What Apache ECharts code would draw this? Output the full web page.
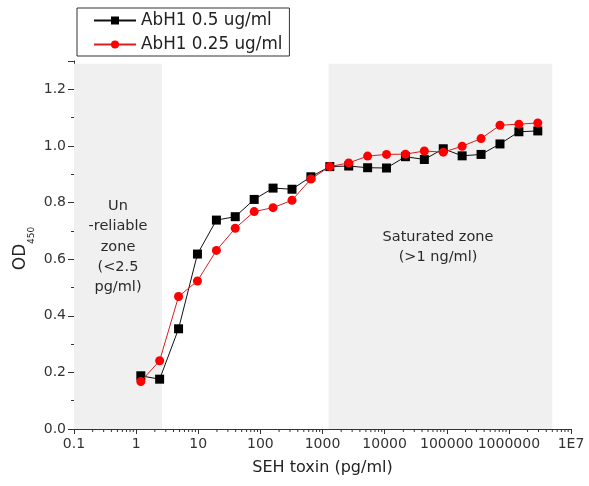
<!DOCTYPE html>
<html>
<head>
<meta charset="utf-8">
<script src="https://cdn.jsdelivr.net/npm/echarts@6/dist/echarts.min.js"></script>
<style>
html,body{margin:0;padding:0;background:#fff;}
#c{width:589px;height:486px;}
</style>
</head>
<body>
<div id="c"></div>
<script>
// ---- data ----
const concentrations = [1.19, 2.39, 4.82, 9.71, 19.6, 39.4, 79.5, 160, 323, 650, 1311, 2642,
  5323, 10730, 21630, 43590, 87840, 177000, 356800, 719000, 1449000, 2920000];
const od_05 = [0.188, 0.176, 0.354, 0.618, 0.738, 0.75, 0.811, 0.851, 0.847, 0.891, 0.927, 0.929,
  0.923, 0.922, 0.962, 0.952, 0.99, 0.965, 0.97, 1.007, 1.05, 1.053];
const od_025 = [0.168, 0.241, 0.468, 0.523, 0.631, 0.709, 0.768, 0.782, 0.808, 0.883, 0.927, 0.94,
  0.964, 0.97, 0.971, 0.982, 0.978, 0.999, 1.026, 1.073, 1.077, 1.081];
const seriesNames = ['AbH1 0.5 ug/ml', 'AbH1 0.25 ug/ml'];
const xTickLabels = ['0.1', '1', '10', '100', '1000', '10000', '100000', '1000000', '1E7'];
const unreliableZone = [0.1, 2.6];
const saturatedZone = [1250, 5000000];
const zoneTop = 1.29;

const FONT = 'DejaVu Sans';
const pair = (xs, ys) => xs.map((x, i) => [x, ys[i]]);

// minor tick positions for the log axis (2..9 within each decade)
const minorTicks = [];
for (let e = -1; e < 7; e++) for (let m = 2; m <= 9; m++) minorTicks.push([m * Math.pow(10, e), 0]);

const chart = echarts.init(document.getElementById('c'), null, {renderer: 'canvas'});
chart.setOption({
  animation: false,
  backgroundColor: '#fff',
  grid: {left: 74, right: 18, top: 61, bottom: 57, containLabel: false},
  legend: {
    data: seriesNames,
    orient: 'vertical',
    left: 77, top: 8,
    padding: [4, 7, 3, 16],
    itemGap: 7,
    itemWidth: 42, itemHeight: 10,
    borderColor: '#333', borderWidth: 1,
    textStyle: {fontFamily: FONT, fontSize: 16.8, color: '#222'}
  },
  xAxis: {
    type: 'log', logBase: 10, min: 0.1, max: 1e7, splitNumber: 8,
    name: 'SEH toxin (pg/ml)', nameLocation: 'middle', nameGap: 31,
    nameTextStyle: {fontFamily: FONT, fontSize: 16, color: '#222'},
    axisLine: {lineStyle: {color: '#333', width: 1}},
    axisTick: {show: true, length: 5, inside: false, lineStyle: {color: '#333'}},
    splitLine: {show: false},
    axisLabel: {
      fontFamily: FONT, fontSize: 14, color: '#333', margin: 8,
      formatter: v => xTickLabels[Math.round(Math.log10(v)) + 1]
    }
  },
  yAxis: {
    type: 'value', min: 0, max: 1.3, interval: 0.2,
    axisLine: {show: true, lineStyle: {color: '#333', width: 1}},
    axisTick: {show: true, length: 6, lineStyle: {color: '#333'}},
    minorTick: {show: true, splitNumber: 2, length: 3, lineStyle: {color: '#333'}},
    splitLine: {show: false},
    axisLabel: {fontFamily: FONT, fontSize: 14, color: '#333', margin: 8, showMaxLabel: false,
      formatter: v => v.toFixed(1)}
  },
  graphic: [
    {type: 'group', x: 21, y: 257, rotation: Math.PI / 2, z: 100, children: [
      {type: 'text', style: {text: 'OD', x: 0, y: 0, align: 'center', verticalAlign: 'middle',
        font: '17px "DejaVu Sans"', fill: '#222'}},
      {type: 'text', style: {text: '450', x: 13, y: 11, align: 'left', verticalAlign: 'middle',
        font: '9px "DejaVu Sans"', fill: '#222'}}
    ]},
    {type: 'text', x: 118, y: 247, z: 100, style: {
      text: 'Un\n-reliable\nzone\n(<2.5\npg/ml)', align: 'center', verticalAlign: 'middle',
      font: '14.5px "DejaVu Sans"', lineHeight: 20.3, fill: '#2a2a2a'}},
    {type: 'text', x: 438, y: 247, z: 100, style: {
      text: 'Saturated zone\n(>1 ng/ml)', align: 'center', verticalAlign: 'middle',
      font: '14.5px "DejaVu Sans"', lineHeight: 19.5, fill: '#2a2a2a'}}
  ],
  series: [
    {
      name: 'zones', type: 'line', data: [], silent: true, z: 0,
      markArea: {
        silent: true,
        itemStyle: {color: '#f0f0f0'},
        data: [
          [{xAxis: unreliableZone[0], yAxis: 0}, {xAxis: unreliableZone[1], yAxis: zoneTop}],
          [{xAxis: saturatedZone[0], yAxis: 0}, {xAxis: saturatedZone[1], yAxis: zoneTop}]
        ]
      }
    },
    {
      type: 'custom', silent: true, z: 5, clip: false,
      data: minorTicks,
      renderItem: (params, api) => {
        const p = api.coord([api.value(0), 0]);
        return {type: 'line', shape: {x1: p[0], y1: p[1], x2: p[0], y2: p[1] + 3},
          style: {stroke: '#333', lineWidth: 1}};
      }
    },
    {
      name: seriesNames[0], type: 'line', data: pair(concentrations, od_05),
      symbol: 'rect', symbolSize: 9, z: 3,
      lineStyle: {color: '#111', width: 1},
      itemStyle: {color: '#000'}
    },
    {
      name: seriesNames[1], type: 'line', data: pair(concentrations, od_025),
      symbol: 'circle', symbolSize: 9, z: 4,
      lineStyle: {color: '#d42020', width: 1},
      itemStyle: {color: '#ff0000'}
    }
  ]
});
</script>
</body>
</html>
